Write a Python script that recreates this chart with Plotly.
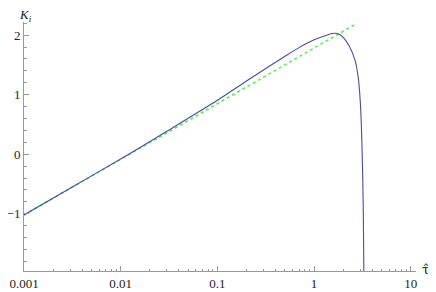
import plotly.graph_objects as go

# Blue curve K_i(tau)
tau = [0.001, 0.003, 0.01, 0.03, 0.1, 0.2, 0.35, 0.5, 0.7, 1.0, 1.3, 1.6, 1.8,
       2.0, 2.3, 2.65, 2.87, 3.0, 3.08, 3.14, 3.19, 3.23, 3.27]
k_i = [-1.02, -0.57, -0.08, 0.385, 0.905, 1.23, 1.485, 1.645, 1.79, 1.92, 1.99, 2.03, 2.02,
       1.96, 1.82, 1.58, 1.27, 0.90, 0.50, 0.05, -0.45, -1.00, -1.96]

# Green dotted asymptote
tau_asym = [0.001, 2.6]
k_asym = [-1.02, 2.17]

fig = go.Figure()
fig.add_trace(go.Scatter(x=tau_asym, y=k_asym, mode="lines",
                         line=dict(color="#55ee55", width=1.6, dash="dot"),
                         showlegend=False))
fig.add_trace(go.Scatter(x=tau, y=k_i, mode="lines",
                         line=dict(color="#4a4aa8", width=1.1, shape="spline", smoothing=0.8),
                         showlegend=False))

font = dict(family="Liberation Serif, Times New Roman, serif", size=13, color="#222")

# The page body adds an 8px offset, so the figure is drawn 8px smaller and margins compensate
fig.update_layout(
    width=428, height=284,
    margin=dict(l=16, r=20, t=14, b=21),
    paper_bgcolor="white", plot_bgcolor="white",
    font=font,
    xaxis=dict(type="log", range=[-3, 1.054], showgrid=False, zeroline=False,
               showline=True, linecolor="#999", linewidth=1, automargin=False,
               ticks="inside", ticklen=5, tickcolor="#999",
               tickvals=[0.001, 0.01, 0.1, 1, 10],
               ticktext=["0.001", "0.01", "0.1", "1", "10"],
               minor=dict(ticks="inside", ticklen=2.5, tickcolor="#999",
                          tickvals=[m * 10.0 ** e for e in range(-3, 1) for m in range(2, 10)]),
               fixedrange=True),
    yaxis=dict(range=[-1.96, 2.22], showgrid=False, zeroline=False,
               showline=True, linecolor="#999", linewidth=1, automargin=False,
               ticks="inside", ticklen=5, tickcolor="#999",
               tickvals=[-1, 0, 1, 2], ticktext=["\u22121", "0", "1", "2"],
               minor=dict(ticks="inside", ticklen=2.5, tickcolor="#999", dtick=0.2),
               fixedrange=True),
    annotations=[
        dict(text="<i>K</i><sub><i>i</i></sub>", xref="paper", yref="paper",
             x=0, y=1, xanchor="left", yanchor="middle", xshift=-6, yshift=7,
             borderpad=0,
             showarrow=False, font=dict(family="Liberation Serif, serif", size=13, color="#222")),
        dict(text="\u03c4\u0302", xref="paper", yref="paper",
             x=1, y=0, xanchor="left", yanchor="middle", xshift=4, yshift=2,
             showarrow=False, font=dict(family="DejaVu Serif, serif", size=13, color="#222")),
    ],
)

fig.write_html("out.html")
